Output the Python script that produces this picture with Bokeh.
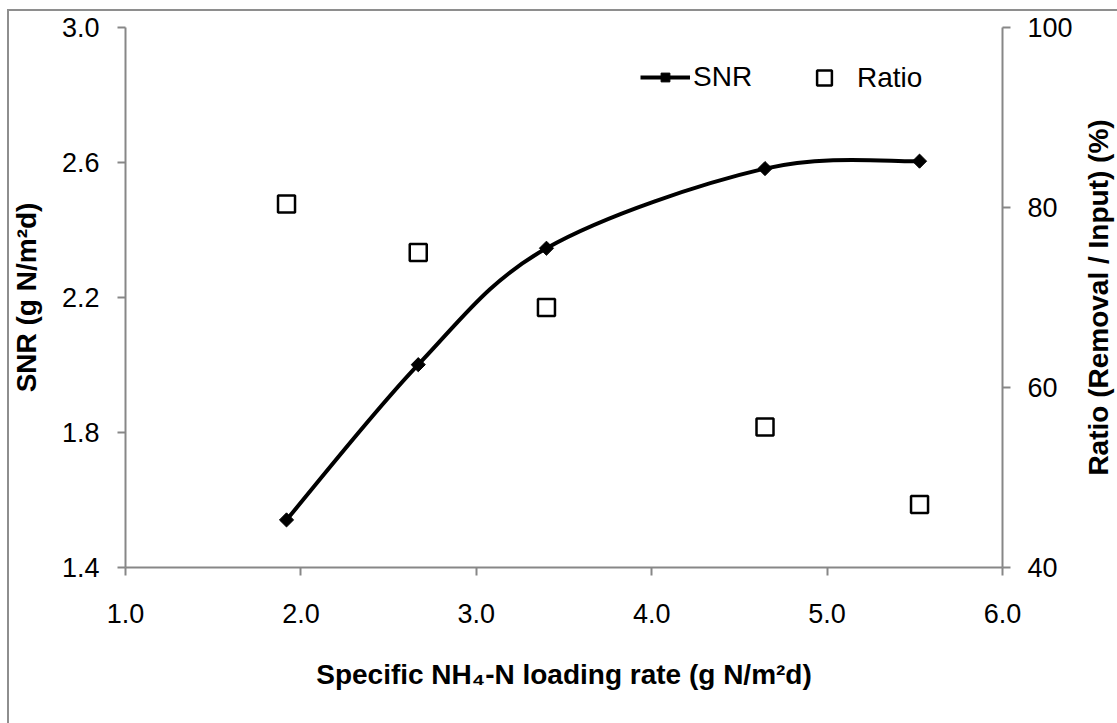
import math
import numpy as np
from bokeh.plotting import figure
from bokeh.layouts import row
from bokeh.models import (LinearAxis, Range1d, FixedTicker, Legend, LegendItem,
                          NumeralTickFormatter, InlineStyleSheet)
from bokeh.embed import file_html
from bokeh.resources import INLINE

# ---- data ----
loading_rate = [1.918, 2.669, 3.400, 4.646, 5.527]   # g N/m2d
snr = [1.541, 2.001, 2.346, 2.582, 2.604]            # g N/m2d
ratio = [80.4, 75.0, 68.9, 55.6, 47.0]               # %

x_ticks = [1.0, 2.0, 3.0, 4.0, 5.0, 6.0]
snr_ticks = [1.4, 1.8, 2.2, 2.6, 3.0]
ratio_ticks = [40, 60, 80, 100]

x_title = "Specific NH\u2084-N loading rate (g N/m\u00b2d)"
y_title = "SNR (g N/m\u00b2d)"
y2_title = "Ratio (Removal / Input) (%)"
snr_name = "SNR"
ratio_name = "Ratio"

FONT = "Liberation Sans"
AXIS_GREY = "#878787"
BORDER_GREY = "#8e8e8e"

p = figure(frame_width=877, frame_height=540,
           x_range=Range1d(x_ticks[0], x_ticks[-1]),
           y_range=Range1d(snr_ticks[0], snr_ticks[-1]),
           output_backend="svg", toolbar_location=None,
           min_border_left=125, min_border_right=77,
           min_border_top=27, min_border_bottom=156)
p.extra_y_ranges = {"ratio": Range1d(ratio_ticks[0], ratio_ticks[-1])}
p.outline_line_color = None
p.xgrid.visible = False
p.ygrid.visible = False
p.background_fill_color = "white"
p.border_fill_color = "white"

# outer chart-area border (only its left and top edges fall inside the picture)
p.stylesheets = [InlineStyleSheet(css="""
:host::after {
  content: "";
  position: absolute;
  left: 7px; top: 9px; right: 0; bottom: 0;
  border-left: 2px solid %s;
  border-top: 2px solid %s;
  pointer-events: none;
  z-index: 10;
}
""" % (BORDER_GREY, BORDER_GREY))]

right_axis = LinearAxis(y_range_name="ratio")
p.add_layout(right_axis, "right")


def style_axis(ax, ticks, fmt):
    ax.ticker = FixedTicker(ticks=ticks)
    ax.formatter = NumeralTickFormatter(format=fmt)
    ax.axis_line_color = AXIS_GREY
    ax.axis_line_width = 2
    ax.major_tick_line_color = AXIS_GREY
    ax.major_tick_line_width = 2
    ax.major_tick_out = 8
    ax.major_tick_in = 0
    ax.minor_tick_line_color = None
    ax.major_label_text_font = FONT
    ax.major_label_text_font_size = "27px"
    ax.major_label_text_color = "black"
    ax.axis_label_text_font = FONT
    ax.axis_label_text_font_size = "28px"
    ax.axis_label_text_font_style = "bold"
    ax.axis_label_text_color = "black"


xa = p.xaxis[0]
ya = p.yaxis[0]
style_axis(xa, x_ticks, "0.0")
style_axis(ya, snr_ticks, "0.0")
style_axis(right_axis, ratio_ticks, "0")

xa.axis_label = x_title
xa.major_label_standoff = 28
xa.axis_label_standoff = 33

ya.axis_label = y_title
ya.major_label_standoff = 18
ya.axis_label_standoff = 17

right_axis.major_label_standoff = 17

# ---- smoothed SNR line (Catmull-Rom style bezier through the data points) ----
xs = np.array(loading_rate, dtype=float)
ys = np.array(snr, dtype=float)
n = len(xs)
xp = np.concatenate([[xs[0]], xs, [xs[-1]]])
yp = np.concatenate([[ys[0]], ys, [ys[-1]]])
cx0 = xp[1:n] + (xp[2:n + 1] - xp[0:n - 1]) / 6.0
cy0 = yp[1:n] + (yp[2:n + 1] - yp[0:n - 1]) / 6.0
cx1 = xp[2:n + 1] - (xp[3:n + 2] - xp[1:n]) / 6.0
cy1 = yp[2:n + 1] - (yp[3:n + 2] - yp[1:n]) / 6.0

bez = p.bezier(x0=xs[:-1], y0=ys[:-1], x1=xs[1:], y1=ys[1:],
               cx0=cx0, cy0=cy0, cx1=cx1, cy1=cy1,
               line_color="black", line_width=4)
snr_pts = p.scatter(x=loading_rate, y=snr, marker="square", angle=math.pi / 4,
                    size=10, fill_color="black", line_color="black", line_width=1)

ratio_pts = p.scatter(x=loading_rate, y=ratio, y_range_name="ratio", marker="square",
                      size=17, fill_color="white", line_color="black", line_width=2.5)

# ---- legends ----
leg1 = Legend(items=[LegendItem(label=snr_name, renderers=[bez, snr_pts])],
              location=(515, 474), glyph_width=50, glyph_height=22, label_standoff=3,
              padding=0, margin=0, border_line_color=None, background_fill_alpha=0,
              label_text_font=FONT, label_text_font_size="28px", label_text_color="black")
leg2 = Legend(items=[LegendItem(label=ratio_name, renderers=[ratio_pts])],
              location=(680, 471), glyph_width=38, glyph_height=37, label_standoff=14,
              padding=0, margin=0, border_line_color=None, background_fill_alpha=0,
              label_text_font=FONT, label_text_font_size="28px", label_text_color="black")
p.add_layout(leg1, "center")
p.add_layout(leg2, "center")

# ---- right-hand title strip: a left-side axis label reads bottom to top ----
p2 = figure(frame_width=1, frame_height=540,
            x_range=Range1d(0, 1), y_range=Range1d(ratio_ticks[0], ratio_ticks[-1]),
            output_backend="svg", toolbar_location=None,
            min_border_left=37, min_border_right=0,
            min_border_top=27, min_border_bottom=156)
p2.outline_line_color = None
p2.xgrid.visible = False
p2.ygrid.visible = False
p2.xaxis.visible = False
p2.background_fill_color = "white"
p2.border_fill_color = "white"
t_ax = p2.yaxis[0]
t_ax.ticker = FixedTicker(ticks=[])
t_ax.axis_label = y2_title
t_ax.axis_line_color = None
t_ax.major_tick_line_color = None
t_ax.minor_tick_line_color = None
t_ax.major_label_standoff = 0
t_ax.major_tick_out = 0
t_ax.major_tick_in = 0
t_ax.axis_label_standoff = 3
t_ax.axis_label_text_font = FONT
t_ax.axis_label_text_font_size = "28px"
t_ax.axis_label_text_font_style = "bold"
t_ax.axis_label_text_color = "black"
p2.stylesheets = [InlineStyleSheet(css="""
:host::after {
  content: "";
  position: absolute;
  left: 0; top: 9px; right: 0; bottom: 0;
  border-top: 2px solid %s;
  pointer-events: none;
  z-index: 10;
}
""" % BORDER_GREY)]

layout = row(p, p2, spacing=0)
open("out.html", "w").write(file_html(layout, INLINE))
